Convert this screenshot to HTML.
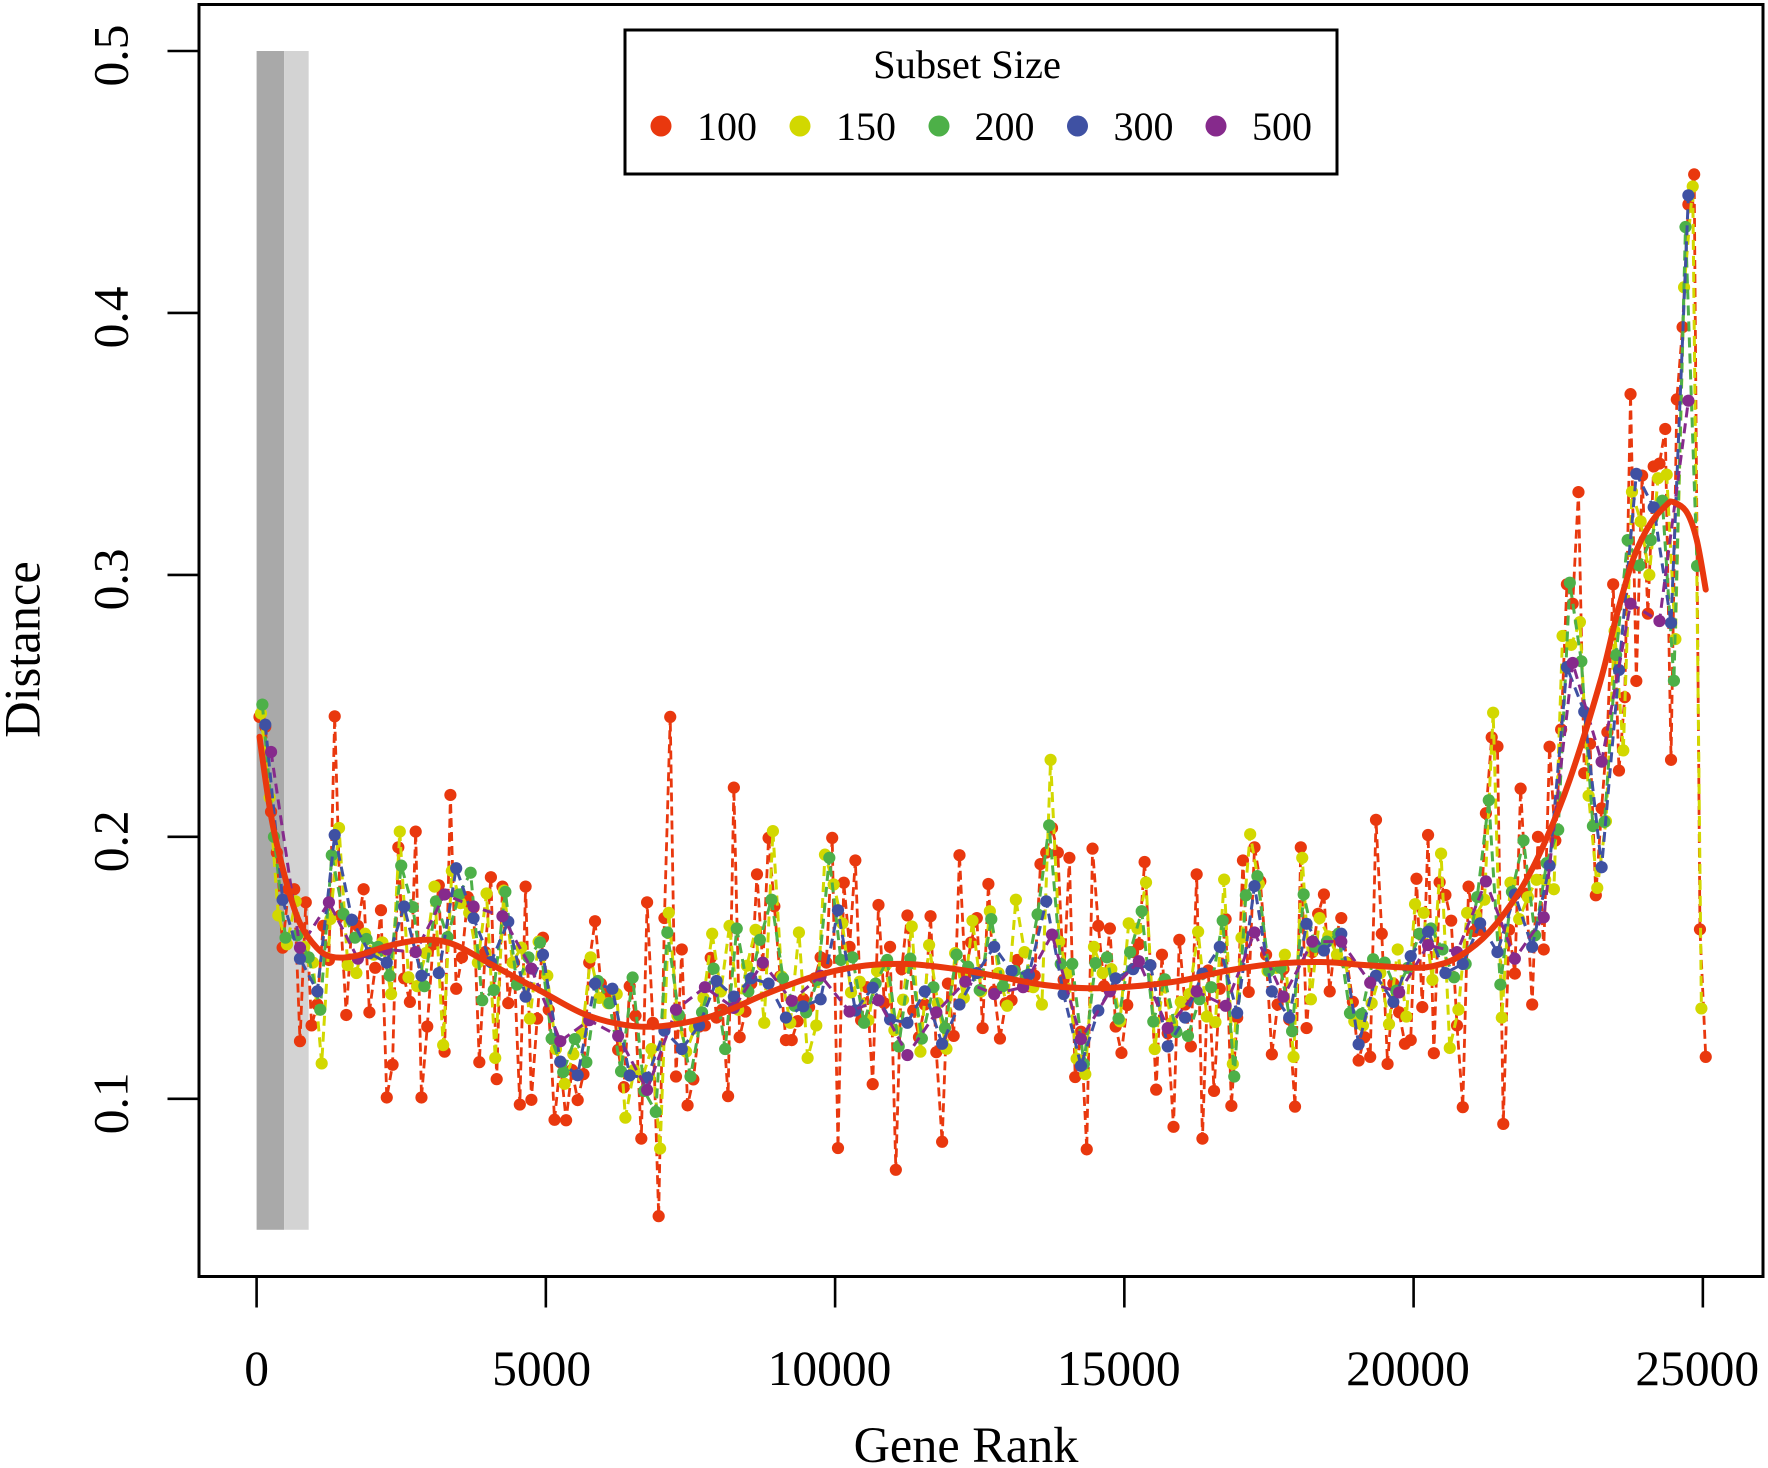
<!DOCTYPE html>
<html lang="en">
<head>
<meta charset="utf-8">
<title>Distance by Gene Rank</title>
<style>
html,body{margin:0;padding:0;background:#fff;}
svg{display:block;}
text{font-family:"Liberation Serif",serif;fill:#000;}
</style>
</head>
<body>
<svg id="chart" xmlns="http://www.w3.org/2000/svg" width="1768" height="1468" viewBox="0 0 1768 1468">
  <rect x="0" y="0" width="1768" height="1468" fill="#fff"/>
  <g id="bands"></g>
  <g id="series"></g>
  <g id="smooth"></g>
  <rect x="199" y="4.5" width="1564" height="1272" fill="none" stroke="#000" stroke-width="3"/>
  <g id="axes"></g>
  <text x="966" y="1462" font-size="50.3" text-anchor="middle">Gene Rank</text>
  <text transform="translate(39.5,649.5) rotate(-90)" font-size="50.5" text-anchor="middle">Distance</text>
  <g>
    <rect x="625" y="30" width="712" height="144" fill="#fff" stroke="#000" stroke-width="3"/>
    <text x="967" y="78" font-size="40.5" text-anchor="middle">Subset Size</text>
    <g><circle cx="661" cy="126" r="10.5" fill="#e9380e"/><text x="697" y="140" font-size="40">100</text></g>
    <g><circle cx="800" cy="126" r="10.5" fill="#d2d800"/><text x="836" y="140" font-size="40">150</text></g>
    <g><circle cx="939" cy="126" r="10.5" fill="#4db048"/><text x="974.5" y="140" font-size="40">200</text></g>
    <g><circle cx="1077.5" cy="126" r="10.5" fill="#3f51a3"/><text x="1113.5" y="140" font-size="40">300</text></g>
    <g><circle cx="1216" cy="126" r="10.5" fill="#862a8c"/><text x="1252" y="140" font-size="40">500</text></g>
  </g>
</svg>
<script>
var xTicks = [0, 5000, 10000, 15000, 20000, 25000];
var yTicks = [0.1, 0.2, 0.3, 0.4, 0.5];
var yTickLabels = ['0.1', '0.2', '0.3', '0.4', '0.5'];
var bandEdges = [0, 475, 900];
var bandRange = [0.05, 0.5];

var subset100 = [
.2458,.242,.2096,.194,.1577,.180,.180,.122,.175,.128,
.136,.166,.153,.246,.170,.132,.168,.166,.180,.133,
.150,.172,.1005,.113,.196,.146,.137,.202,.1005,.1276,
.159,.1815,.118,.216,.142,.154,.177,.173,.114,.156,
.1846,.1075,.181,.1365,.152,.0978,.181,.0996,.1306,.1615,
.134,.092,.114,.0918,.111,.0995,.1094,.152,.1678,.144,
.14,.14,.1187,.1044,.143,.1317,.0848,.175,.129,.0552,
.169,.2458,.1085,.157,.0975,.1074,.1276,.128,.1538,.131,
.134,.101,.2188,.1235,.1333,.144,.1857,.151,.1996,.1735,
.1467,.1224,.1224,.1296,.138,.135,.146,.154,.152,.1996,
.0812,.1825,.158,.191,.130,.1426,.1056,.174,.1365,.158,
.0729,.1495,.17,.1337,.1235,.136,.1697,.1178,.0836,.144,
.124,.193,.147,.1597,.169,.127,.182,.141,.123,.1365,
.1376,.153,.143,.143,.147,.1896,.194,.2034,.194,.1454,
.192,.1083,.1256,.0807,.1955,.166,.143,.165,.1276,.1175,
.1358,.156,.159,.1904,.151,.1035,.155,.125,.0893,.1607,
.136,.120,.1857,.0848,.149,.103,.142,.1686,.0973,.131,
.191,.1408,.196,.183,.155,.117,.136,.1495,.1303,.097,
.196,.127,.156,.1706,.178,.141,.162,.169,.152,.137,
.1146,.1235,.116,.2065,.163,.1133,.144,.133,.121,.1224,
.184,.135,.2007,.1174,.1827,.1778,.168,.128,.0968,.181,
.164,.1645,.209,.238,.2345,.0904,.1645,.1478,.2184,.178,
.136,.2,.157,.2344,.1986,.241,.2964,.289,.3316,.2243,
.2355,.1777,.2109,.24,.2964,.2253,.2533,.369,.2595,.3379,
.2852,.3414,.3425,.3557,.2294,.367,.3946,.4414,.4529,.1647,.116];

var subset150 = [
.2471,.215,.17,.159,.1754,.158,.152,.1135,.1686,.2034,
.151,.148,.163,.155,.1597,.14,.202,.1464,.143,.1556,
.181,.1205,.187,.1747,.171,.152,.1784,.1156,.1795,.152,
.1577,.1306,.16,.147,.119,.1057,.117,.125,.154,.1385,
.1365,.14,.0928,.111,.1085,.119,.081,.171,.1317,.118,
.1269,.1385,.163,.141,.166,.134,.1508,.1645,.129,.2022,
.1467,.129,.1635,.1156,.128,.1932,.1818,.167,.1406,.1447,
.130,.1488,.151,.1262,.1378,.1658,.118,.1587,.1365,.1191,
.1556,.1385,.168,.141,.1716,.148,.1355,.176,.156,.1426,
.136,.2294,.16,.148,.1153,.1094,.158,.148,.1495,.1296,
.167,.165,.1826,.119,.1447,.129,.137,.14,.1638,.1314,
.1293,.1837,.1133,.1615,.201,.182,.1488,.15,.155,.116,
.192,.138,.169,.162,.155,.152,.1296,.128,.1365,.148,
.1285,.157,.1314,.1743,.171,.1454,.1936,.1194,.134,.171,
.17,.176,.2474,.131,.1825,.1686,.177,.1836,.1836,.18,
.2767,.2733,.282,.2157,.1805,.206,.2786,.233,.3317,.3204,
.30,.3369,.3383,.2755,.4098,.4483,.1345];

var subset200 = [
.2505,.2,.1615,.1624,.154,.134,.193,.1706,.1615,.161,
.158,.147,.189,.1732,.143,.1754,.1617,.178,.1863,.1376,
.1415,.179,.1436,.154,.1597,.123,.1102,.1228,.114,.145,
.1365,.1105,.1463,.103,.095,.1635,.132,.1085,.133,.1497,
.119,.165,.141,.1607,.176,.146,.1355,.133,.1454,.192,
.153,.154,.129,.144,.153,.12,.1535,.123,.1426,.127,
.155,.1504,.1415,.1686,.143,.1488,.147,.1704,.2044,.1515,
.1515,.1133,.1518,.154,.1306,.156,.1716,.1295,.1456,.1255,
.124,.138,.1426,.168,.1085,.1777,.185,.1488,.15,.1258,
.178,.158,.16,.163,.1327,.1324,.1533,.152,.1413,.15,
.163,.165,.157,.1464,.1515,.177,.214,.1436,.179,.1986,
.1624,.19,.2027,.297,.267,.2041,.2057,.2694,.3133,.3036,
.3133,.3283,.2596,.4328,.3034];

var subset300 = [
.2428,.176,.1535,.141,.2007,.1683,.1556,.152,.1734,.147,
.148,.188,.169,.1522,.1676,.139,.155,.1142,.109,.144,
.142,.1089,.108,.126,.119,.128,.145,.139,.146,.144,
.131,.1353,.138,.172,.1337,.1424,.1303,.129,.141,.121,
.136,.148,.158,.1488,.1474,.1754,.14,.1126,.1337,.146,
.1495,.151,.12,.131,.1478,.158,.1328,.1812,.141,.131,
.1668,.1566,.163,.1208,.147,.137,.1545,.1638,.148,.1515,
.167,.156,.178,.158,.189,.2648,.2478,.1884,.2637,.3386,
.3258,.2817,.4449];

var subset500 = [
.2324,.1577,.175,.1535,.157,.156,.178,.1734,.1697,.1497,
.122,.13,.124,.1034,.134,.1426,.1347,.152,.1374,.147,
.1333,.1376,.1167,.133,.1447,.140,.1426,.1627,.1228,.141,
.1525,.127,.141,.1355,.1635,.139,.16,.16,.1443,.1406,
.1587,.156,.183,.1535,.1693,.2664,.2287,.289,.2824,.3665];

var smoothRanks = [50,260,520,750,1040,1300,1700,2300,2900,3400,4000,4900,5700,6500,7200,8000,8800,9600,10400,11200,12000,12800,13600,14400,15200,16000,16800,17600,18400,19200,20000,20400,20800,21300,21840,22250,22700,23230,23510,23800,24090,24376,24490,24720,24893,25050];
var smoothValues = [.2382,.2068,.1822,.167,.1577,.1542,.1545,.1585,.1607,.159,.152,.1413,.132,.1278,.1283,.1325,.14,.1465,.1505,.1515,.1498,.1468,.1435,.1422,.143,.1452,.149,.1515,.1522,.151,.15,.151,.1545,.1635,.1795,.197,.2219,.2595,.2845,.3063,.3195,.3268,.3278,.324,.3135,.2944];

var SVGNS = 'http://www.w3.org/2000/svg';
function xScale(rank) { return 256.6 + (rank - 0) * 0.05785; }
function yScale(value) { return 1098.8 - (value - 0.1) * 2619.5; }
function make(tag, attrs, parent) {
  var el = document.createElementNS(SVGNS, tag);
  for (var k in attrs) { el.setAttribute(k, attrs[k]); }
  parent.appendChild(el);
  return el;
}

var bandsLayer = document.getElementById('bands');
var bandColors = ['#a9a9a9', '#d3d3d3'];
for (var b = 0; b < bandEdges.length - 1; b++) {
  var band = make('rect', {
    x: xScale(bandEdges[b]),
    y: yScale(bandRange[1]),
    width: xScale(bandEdges[b + 1]) - xScale(bandEdges[b]),
    height: yScale(bandRange[0]) - yScale(bandRange[1]),
    fill: bandColors[b]
  }, bandsLayer);
  
  
}

function drawSeries(values, size, color, width, dash, label) {
  var layer = document.getElementById('series');
  var group = make('g', {}, layer);
  
  
  var pts = [];
  for (var i = 0; i < values.length; i++) {
    pts.push(xScale(size / 2 + size * i).toFixed(2) + ',' + yScale(values[i]).toFixed(2));
  }
  var line = make('polyline', {
    points: pts.join(' '),
    fill: 'none',
    stroke: color,
    'stroke-width': width,
    'stroke-dasharray': dash
  }, group);
  
  
  for (var j = 0; j < values.length; j++) {
    var dot = make('circle', {
      cx: xScale(size / 2 + size * j).toFixed(2),
      cy: yScale(values[j]).toFixed(2),
      r: 6.1,
      fill: color
    }, group);
    
    
  }
}
drawSeries(subset100, 100, '#e9380e', 2.8, '9 5', '100');
drawSeries(subset150, 150, '#d2d800', 3, '10 6', '150');
drawSeries(subset200, 200, '#4db048', 3, '10 6', '200');
drawSeries(subset300, 300, '#3f51a3', 3, '10 6', '300');
drawSeries(subset500, 500, '#862a8c', 3, '10 6', '500');

function smoothPath(xs, ys) {
  var px = xs.map(xScale), py = ys.map(yScale);
  var d = 'M' + px[0].toFixed(2) + ' ' + py[0].toFixed(2);
  for (var i = 0; i < px.length - 1; i++) {
    var i0 = Math.max(i - 1, 0), i3 = Math.min(i + 2, px.length - 1);
    var c1x = px[i] + (px[i + 1] - px[i0]) / 6, c1y = py[i] + (py[i + 1] - py[i0]) / 6;
    var c2x = px[i + 1] - (px[i3] - px[i]) / 6, c2y = py[i + 1] - (py[i3] - py[i]) / 6;
    d += 'C' + c1x.toFixed(2) + ' ' + c1y.toFixed(2) + ' ' + c2x.toFixed(2) + ' ' + c2y.toFixed(2) + ' ' + px[i + 1].toFixed(2) + ' ' + py[i + 1].toFixed(2);
  }
  return d;
}
var smoothLine = make('path', {
  d: smoothPath(smoothRanks, smoothValues),
  fill: 'none',
  stroke: '#e9380e',
  'stroke-width': 6,
  'stroke-linecap': 'round',
  'stroke-linejoin': 'round'
}, document.getElementById('smooth'));



var axes = document.getElementById('axes');
xTicks.forEach(function (t) {
  var tick = make('line', { x1: xScale(t), x2: xScale(t), y1: 1276, y2: 1307.5, stroke: '#000', 'stroke-width': 2.6 }, axes);
  
  
  var s = String(t);
  var lab = make('text', { x: xScale(t) - (s.length - 1) * 1.4, y: 1385, 'font-size': 49.5, 'text-anchor': 'middle' }, axes);
  lab.textContent = s;
  
  
});
yTicks.forEach(function (t, i) {
  var tick = make('line', { x1: 167.5, x2: 199, y1: yScale(t), y2: yScale(t), stroke: '#000', 'stroke-width': 2.6 }, axes);
  
  
  var lab = make('text', { transform: 'translate(127.5,' + (yScale(t) + 4.5) + ') rotate(-90)', 'font-size': 49.5, 'text-anchor': 'middle' }, axes);
  lab.textContent = yTickLabels[i];
  
  
});
</script>
</body>
</html>
